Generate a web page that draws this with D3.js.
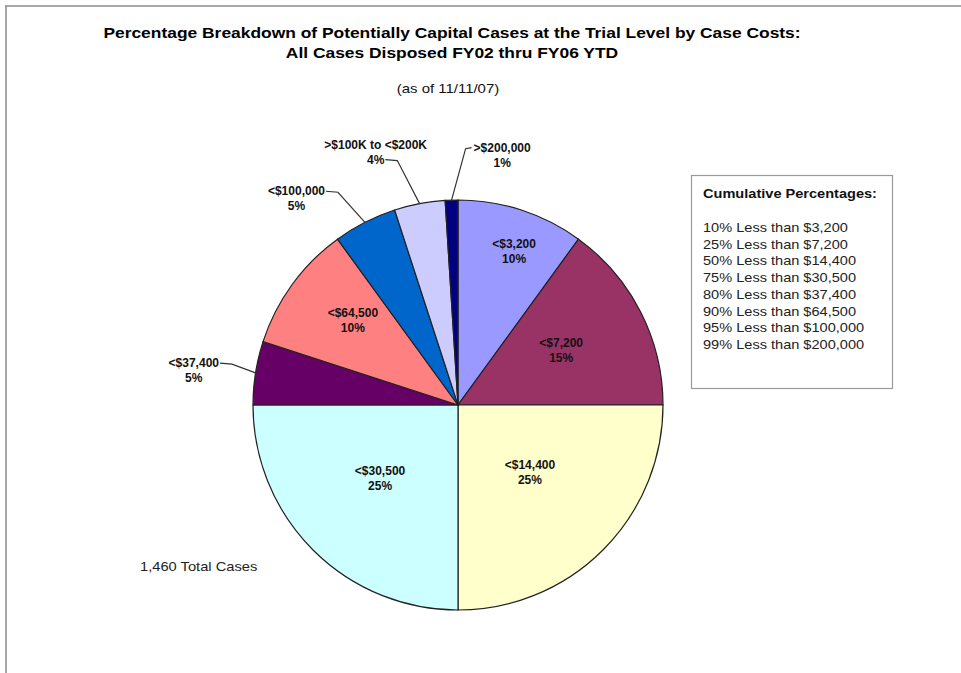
<!DOCTYPE html>
<html>
<head>
<meta charset="utf-8">
<script src="https://cdn.jsdelivr.net/npm/d3@7"></script>
<style>
  html, body { margin: 0; padding: 0; background: #ffffff; }
  svg { display: block; font-family: "Liberation Sans", Arial, sans-serif; }
</style>
</head>
<body>
<script>
// ---- Data ----
const categories = ["<$3,200", "<$7,200", "<$14,400", "<$30,500", "<$37,400", "<$64,500", "<$100,000", ">$100K to <$200K", ">$200,000"];
const percentages = [10, 15, 25, 25, 5, 10, 5, 4, 1];
const sliceColors = ["#9999FF", "#993366", "#FFFFCC", "#CCFFFF", "#660066", "#FF8080", "#0066CC", "#CCCCFF", "#000080"];
const titleLines = ["Percentage Breakdown of Potentially Capital Cases at the Trial Level by Case Costs:", "All Cases Disposed FY02 thru FY06 YTD"];
const subtitle = "(as of 11/11/07)";
const legendTitle = "Cumulative Percentages:";
const cumulativeLines = ["10% Less than $3,200", "25% Less than $7,200", "50% Less than $14,400", "75% Less than $30,500", "80% Less than $37,400", "90% Less than $64,500", "95% Less than $100,000", "99% Less than $200,000"];
const totalNote = "1,460 Total Cases";

// ---- Layout (label placement: angle in degrees, radius as fraction of pie radius) ----
const labelLayout = [
  { inside: true, a: 20, r: 0.80 },
  { inside: true, a: 62, r: 0.57 },
  { inside: true, a: 133, r: 0.48 },
  { inside: true, a: 227, r: 0.52 },
  { inside: false, a: 277.5, r: 1.30, side: "right", line: 0 },
  { inside: true, a: 309, r: 0.66 },
  { inside: false, a: 322, r: 1.28, side: "right", line: 0 },
  { inside: false, a: 342, r: 1.30, side: "right", line: 1 },
  { inside: false, a: 10, r: 1.24, side: "left", line: 0 }
];

const W = 961, H = 673;
const cx = 458, cy = 405, R = 205;

const svg = d3.select("body").append("svg").attr("width", W).attr("height", H);

// stretch text horizontally by factor k (reference text is slightly wide)
function stretch(sel, k) {
  sel.each(function () {
    const w = this.getComputedTextLength();
    d3.select(this).attr("textLength", w * k).attr("lengthAdjust", "spacingAndGlyphs");
  });
  return sel;
}

// frame lines
svg.append("line").attr("x1", 5).attr("x2", W).attr("y1", 6).attr("y2", 6)
  .attr("stroke", "#8a8a8a").attr("stroke-width", 1.5);
svg.append("line").attr("x1", 6).attr("x2", 6).attr("y1", 6).attr("y2", H)
  .attr("stroke", "#8a8a8a").attr("stroke-width", 1.5);

// titles
const tt = svg.selectAll("text.title").data(titleLines).enter().append("text")
  .attr("class", "title")
  .attr("x", 452).attr("y", (d, i) => 38 + i * 20)
  .attr("text-anchor", "middle")
  .style("font-size", "15px").style("font-weight", "bold").style("fill", "#000")
  .text(d => d);
stretch(tt, 1.16);
const st = svg.append("text").attr("x", 448).attr("y", 93).attr("text-anchor", "middle")
  .style("font-size", "13px").style("fill", "#111").text(subtitle);
stretch(st, 1.15);

// pie
const data = categories.map((c, i) => ({ cat: c, v: percentages[i], color: sliceColors[i], lay: labelLayout[i] }));
const pie = d3.pie().sort(null).value(d => d.v);
const arcs = pie(data);
const arc = d3.arc().innerRadius(0).outerRadius(R);

const g = svg.append("g").attr("transform", `translate(${cx},${cy})`);
g.selectAll("path").data(arcs).enter().append("path")
  .attr("d", arc)
  .attr("fill", d => d.data.color)
  .attr("stroke", "#222").attr("stroke-width", 1.2);

const rad = deg => deg * Math.PI / 180;
const polar = (deg, r) => [r * Math.sin(rad(deg)), -r * Math.cos(rad(deg))];

arcs.forEach(d => {
  const lay = d.data.lay;
  const [lx, ly] = polar(lay.a, lay.r * R);
  const lines = [d.data.cat, d.data.v + "%"];
  const t = g.append("text")
    .attr("text-anchor", "middle")
    .style("font-size", "12px").style("font-weight", "bold").style("fill", "#111");
  lines.forEach((s, i) => {
    t.append("tspan").attr("x", lx).attr("y", ly - 3 + i * 15).text(s);
  });
  if (!lay.inside) {
    const mid = (d.startAngle + d.endAngle) / 2;
    const ex = R * Math.sin(mid), ey = -R * Math.cos(mid);
    const span = t.selectAll("tspan").nodes()[lay.line];
    const w = span.getComputedTextLength();
    const ty = ly - 3 + lay.line * 15 - 4;
    let sx, bx;
    if (lay.side === "right") { sx = lx + w / 2 + 1; bx = sx + 12; }
    else { sx = lx - w / 2 - 2; bx = sx - 6; }
    g.append("path")
      .attr("d", `M${sx},${ty}L${bx},${ty + 1}L${ex},${ey}`)
      .attr("fill", "none").attr("stroke", "#333").attr("stroke-width", 1.2);
  }
});

// legend box
const lg = svg.append("g");
lg.append("rect").attr("x", 691.5).attr("y", 175.5).attr("width", 201).attr("height", 213)
  .attr("fill", "#fff").attr("stroke", "#9a9a9a").attr("stroke-width", 1.2);
const lt = lg.append("text").attr("x", 703).attr("y", 198)
  .style("font-size", "13px").style("font-weight", "bold").style("fill", "#111").text(legendTitle);
stretch(lt, 1.12);
const cl = lg.selectAll("text.cum").data(cumulativeLines).enter().append("text")
  .attr("class", "cum")
  .attr("x", 703).attr("y", (d, i) => 232 + i * 16.7)
  .style("font-size", "13px").style("fill", "#222").text(d => d);
stretch(cl, 1.12);

// total note
const tn = svg.append("text").attr("x", 140).attr("y", 571)
  .style("font-size", "13px").style("fill", "#222").text(totalNote);
stretch(tn, 1.13);
</script>
</body>
</html>
